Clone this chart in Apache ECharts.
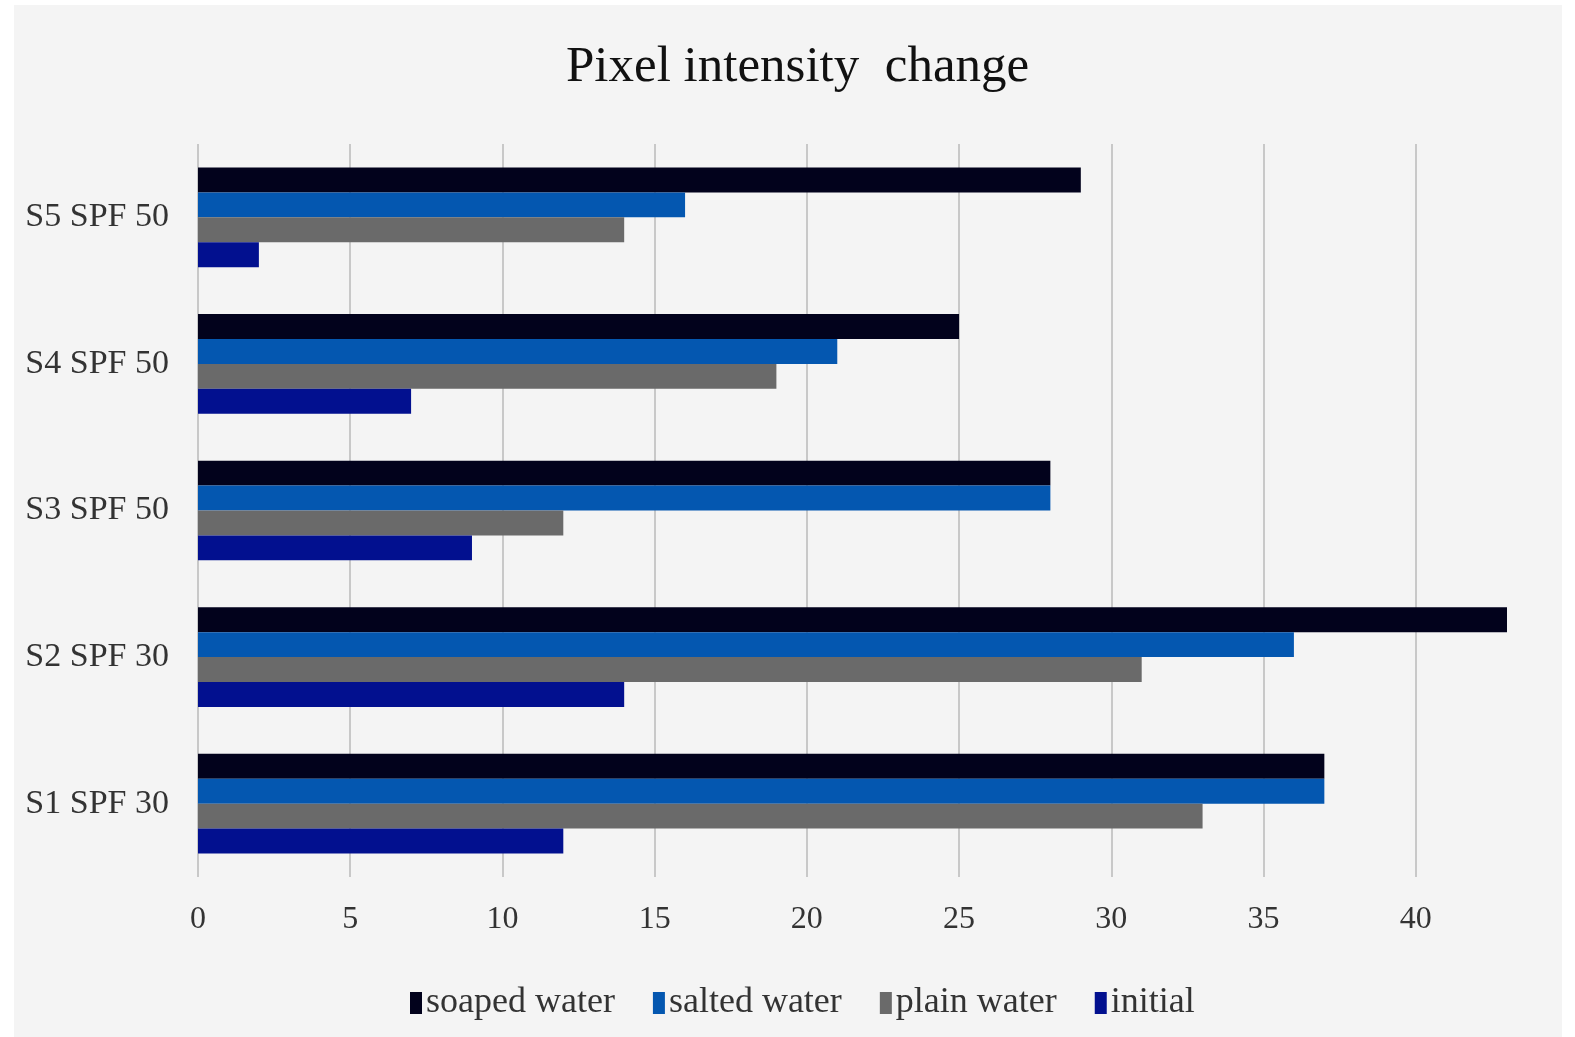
<!DOCTYPE html>
<html>
<head>
<meta charset="utf-8">
<style>
  html, body { margin: 0; padding: 0; background: #ffffff; }
  #chart { width: 1575px; height: 1037px; }
</style>
<script src="https://cdn.jsdelivr.net/npm/echarts@6/dist/echarts.min.js"></script>
</head>
<body>
<div id="chart"></div>
<script>
// Samples, listed bottom to top on the category axis
const categories = ['S1 SPF 30', 'S2 SPF 30', 'S3 SPF 50', 'S4 SPF 50', 'S5 SPF 50'];

// Pixel intensity change per treatment
const soapedWater = [37, 43, 28, 25, 29];
const saltedWater = [37, 36, 28, 21, 16];
const plainWater  = [33, 31, 12, 19, 14];
const initial     = [12, 14, 9, 7, 2];

const seriesNames = ['soaped water', 'salted water', 'plain water', 'initial'];
const seriesColors = ['#02021c', '#0457b0', '#6a6a6a', '#02108f'];
const seriesValues = [soapedWater, saltedWater, plainWater, initial];

const serif = '"Liberation Serif", "Times New Roman", serif';

const chart = echarts.init(document.getElementById('chart'));
chart.setOption({
  backgroundColor: '#ffffff',
  animation: false,
  graphic: [{
    type: 'rect',
    z: -10,
    shape: { x: 14, y: 5, width: 1548, height: 1032 },
    style: { fill: '#f4f4f4' }
  }],
  title: {
    text: 'Pixel intensity  change',
    left: 566,
    top: 42,
    padding: 0,
    textStyle: { fontFamily: serif, fontSize: 51, fontWeight: 'normal', color: '#111111' }
  },
  legend: {
    data: seriesNames,
    top: 985,
    left: 410,
    padding: 0,
    itemWidth: 12,
    itemHeight: 22,
    itemGap: 38,
    icon: 'rect',
    textStyle: { fontFamily: serif, fontSize: 36, color: '#333333', padding: [0, 0, 0, -1] }
  },
  grid: { left: 198, right: 68, top: 144, bottom: 160, containLabel: false },
  xAxis: {
    type: 'value',
    min: 0,
    max: 43,
    interval: 5,
    axisLine: { show: false },
    axisTick: { show: false },
    axisLabel: {
      fontFamily: serif, fontSize: 32, color: '#333333', margin: 27,
      showMaxLabel: false
    },
    splitLine: { show: true, showMaxLine: false, lineStyle: { color: '#c8c8c8', width: 2 } }
  },
  yAxis: {
    type: 'category',
    data: categories,
    axisLine: { show: false },
    axisTick: { show: false },
    axisLabel: { fontFamily: serif, fontSize: 34, color: '#333333', margin: 29 }
  },
  series: seriesNames.map((name, i) => ({
    name: name,
    type: 'bar',
    data: seriesValues[i],
    barGap: '0%',
    barCategoryGap: '32%',
    itemStyle: { color: seriesColors[i] }
  }))
});
</script>
</body>
</html>
